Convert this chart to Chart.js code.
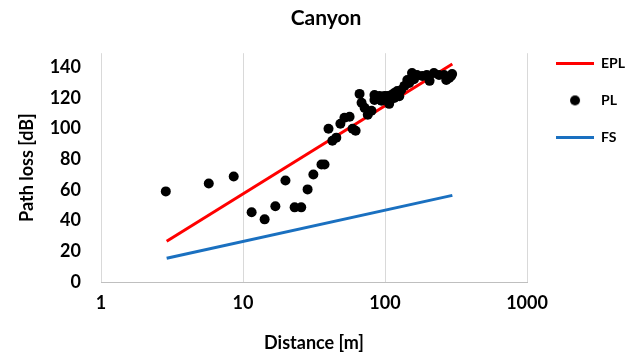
<!DOCTYPE html>
<html>
<head>
<meta charset="utf-8">
<script src="https://cdn.jsdelivr.net/npm/chart.js@4/dist/chart.umd.min.js"></script>
<style>
html,body{margin:0;padding:0;background:#fff;}
#c{display:block;}
</style>
</head>
<body>
<canvas id="c" width="644" height="358"></canvas>
<script>
// ---- data ----
const titleText = "Canyon";
const seriesNames = ["EPL", "PL", "FS"];
const xTickValues = [1, 10, 100, 1000];
const yTickValues = [0, 20, 40, 60, 80, 100, 120, 140];

const eplDistance = [2.9, 298];
const eplLoss = [26.5, 142];

const fsDistance = [2.9, 298];
const fsLoss = [15.5, 56.4];

const plDistance = [2.86, 5.74, 8.6, 11.5, 14.2, 16.9, 19.9, 23.1, 25.7, 28.5,
  31.3, 35.7, 37.5, 40.0, 42.6, 45.4, 48.5, 51.8, 56.3, 59.1,
  62.1, 66.2, 68.4, 71.8, 75.6, 80.3, 84.3, 84.3, 91.4, 94.4,
  99.1, 104, 104, 107, 110.8, 116.2, 116.2, 122, 126, 130,
  137, 143.6, 148, 155, 160, 168, 183, 197, 206, 221,
  240, 261, 270, 283, 292, 297];
const plLoss = [59.0, 64.2, 68.7, 45.4, 40.8, 49.3, 66.1, 48.6, 48.6, 60.3,
  70.0, 76.5, 76.5, 99.8, 92.0, 94.0, 103.0, 107.0, 107.6, 99.8,
  98.5, 122.5, 116.7, 113.4, 108.9, 111.5, 121.8, 118.6, 121.2, 118.0,
  121.2, 118.6, 121.2, 116.0, 121.8, 119.9, 123.1, 124.4, 121.0, 125.0,
  127.7, 131.6, 129.6, 136.1, 132.0, 134.8, 134.2, 134.8, 131.0, 136.1,
  134.8, 134.8, 131.6, 132.9, 134.2, 135.4];

const toPts = (xs, ys) => xs.map((x, i) => ({x: x, y: ys[i]}));

const FONT = "Lato, 'Open Sans', sans-serif";
const TXT = "#000000";

// legend dot image for PL
const dotImg = document.createElement('canvas');
dotImg.width = 38; dotImg.height = 14;
(function(){
  const g = dotImg.getContext('2d');
  g.fillStyle = '#000';
  g.beginPath(); g.arc(19, 7, 5, 0, Math.PI*2); g.fill();
})();

// widen legend box a little and nudge it right, so plot area and legend match the reference
const legendTweak = {
  id: 'legendTweak',
  beforeLayout(chart) {
    const lg = chart.legend;
    if (lg && !lg._tw) {
      const f = lg.fit;
      lg.fit = function() { f.call(this); this.width += 7; };
      lg._tw = true;
    }
  },
  afterLayout(chart) {
    const lg = chart.legend;
    if (lg) { lg.left += 6; lg.right += 6; }
  }
};

new Chart(document.getElementById('c'), {
  type: 'scatter',
  plugins: [legendTweak],
  data: {
    datasets: [
      {
        label: seriesNames[0],
        data: toPts(eplDistance, eplLoss),
        showLine: true,
        borderColor: '#ff0000',
        backgroundColor: '#ff0000',
        borderWidth: 3,
        pointRadius: 0,
        pointHoverRadius: 0,
        pointStyle: 'line',
        order: 1
      },
      {
        label: seriesNames[1],
        data: toPts(plDistance, plLoss),
        showLine: false,
        borderColor: '#000',
        backgroundColor: '#000',
        pointRadius: 5,
        pointBorderWidth: 0,
        pointStyle: 'circle',
        order: 0
      },
      {
        label: seriesNames[2],
        data: toPts(fsDistance, fsLoss),
        showLine: true,
        borderColor: '#1a70c0',
        backgroundColor: '#1a70c0',
        borderWidth: 3,
        pointRadius: 0,
        pointHoverRadius: 0,
        pointStyle: 'line',
        order: 2
      }
    ]
  },
  options: {
    responsive: false,
    devicePixelRatio: 1,
    animation: false,
    layout: { padding: { left: 16, right: 8, top: 6, bottom: 4 } },
    plugins: {
      tooltip: { enabled: false },
      title: {
        display: true,
        text: titleText,
        color: TXT,
        font: { family: FONT, size: 21, weight: 'bold' },
        padding: { top: 0, bottom: 22 }
      },
      legend: {
        position: 'right',
        align: 'start',
        title: {
          display: true,
          text: ' ',
          font: { family: FONT, size: 12 },
          padding: { top: 13, bottom: 0 }
        },
        labels: {
          color: TXT,
          font: { family: FONT, size: 14, weight: 'bold' },
          usePointStyle: true,
          pointStyleWidth: 38,
          boxHeight: 14,
          padding: 23,
          sort: (a, b) => a.datasetIndex - b.datasetIndex,
          generateLabels: (chart) => {
            const items = Chart.defaults.plugins.legend.labels.generateLabels(chart);
            items.forEach(it => {
              if (it.datasetIndex === 1) { it.pointStyle = dotImg; }
              else { it.pointStyle = 'line'; it.lineWidth = 3; }
            });
            return items;
          }
        }
      }
    },
    scales: {
      x: {
        type: 'logarithmic',
        min: 1,
        max: 1000,
        afterBuildTicks: (s) => { s.ticks = xTickValues.map(v => ({value: v})); },
        afterFit: (s) => { s.height = 72; },
        ticks: {
          color: TXT,
          font: { family: FONT, size: 18, weight: 'bold' },
          padding: 10,
          autoSkip: false,
          maxRotation: 0,
          callback: (v) => String(v)
        },
        grid: { color: '#d9d9d9', lineWidth: 1, drawTicks: false },
        border: { display: true, color: '#bfbfbf', width: 1 },
        title: {
          display: true,
          text: 'Distance [m]',
          color: TXT,
          font: { family: FONT, size: 18, weight: 'bold' },
          padding: { top: 10, bottom: 0 }
        }
      },
      y: {
        type: 'linear',
        min: 0,
        max: 149,
        afterBuildTicks: (s) => { s.ticks = yTickValues.map(v => ({value: v})); },
        afterFit: (s) => { s.width = 85; },
        ticks: {
          color: TXT,
          font: { family: FONT, size: 18, weight: 'bold' },
          padding: 20,
          callback: (v) => String(v)
        },
        grid: { display: false, drawTicks: false },
        border: { display: false },
        title: {
          display: true,
          text: 'Path loss [dB]',
          color: TXT,
          font: { family: FONT, size: 18, weight: 'bold' },
          padding: { top: 0, bottom: 6 }
        }
      }
    }
  }
});
</script>
</body>
</html>
